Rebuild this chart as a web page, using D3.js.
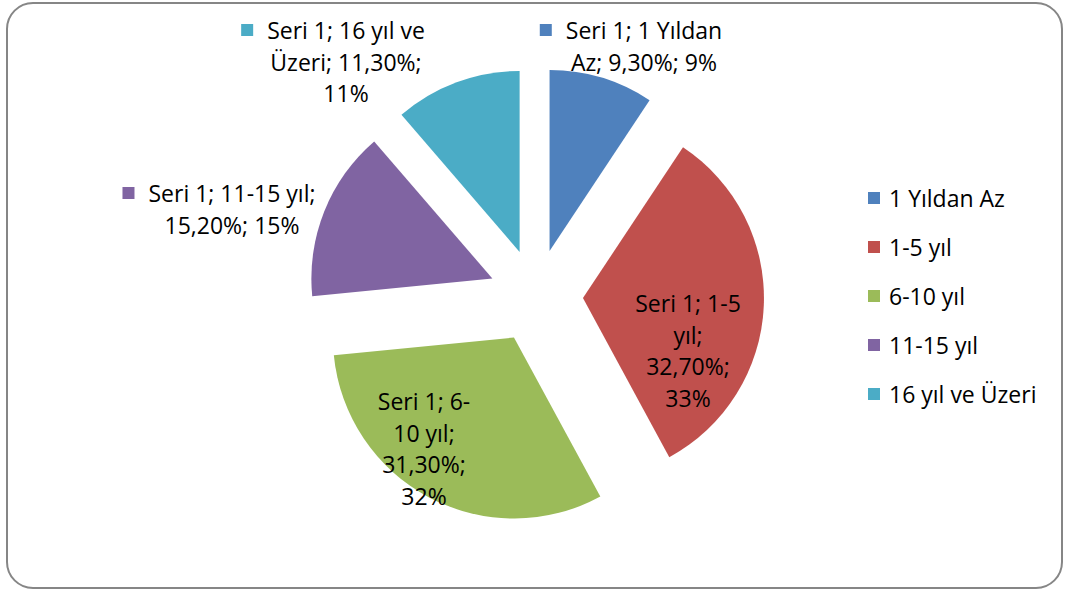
<!DOCTYPE html>
<html>
<head>
<meta charset="utf-8">
<script src="https://cdn.jsdelivr.net/npm/d3@7"></script>
<style>
  body { margin: 0; background: #fff; }
  svg { display: block; font-family: "Open Sans", "Noto Sans", sans-serif; }
</style>
</head>
<body>
<div id="chart"></div>
<script>
const categories = ["1 Yıldan Az", "1-5 yıl", "6-10 yıl", "11-15 yıl", "16 yıl ve Üzeri"];
const values = [9.3, 32.7, 31.3, 15.2, 11.3];
const valueLabels = ["9,30%", "32,70%", "31,30%", "15,20%", "11,30%"];
const percentLabels = ["9%", "33%", "32%", "15%", "11%"];
const seriesName = "Seri 1";

const colors = ["#4F81BD", "#C0504D", "#9BBB59", "#8064A2", "#4BACC6"];
const width = 1066, height = 592;
const cx = 536, cy = 296, radius = 181, explode = 47; // pie center, in pixels
const fontSize = 23, lineH = 31.5;

// label blocks: lines of text, text center, whether to show a legend key
const labelLayout = [
  { lines: [`${seriesName}; 1 Yıldan`, `Az; ${valueLabels[0]}; ${percentLabels[0]}`], x: 644, y: 30, key: true },
  { lines: [`${seriesName}; 1-5`, "yıl;", `${valueLabels[1]};`, percentLabels[1]], x: 688, y: 303, key: false },
  { lines: [`${seriesName}; 6-`, "10 yıl;", `${valueLabels[2]};`, percentLabels[2]], x: 424, y: 401, key: false },
  { lines: [`${seriesName}; 11-15 yıl;`, `${valueLabels[3]}; ${percentLabels[3]}`], x: 232, y: 193, key: true },
  { lines: [`${seriesName}; 16 yıl ve`, `Üzeri; ${valueLabels[4]};`, percentLabels[4]], x: 346, y: 30, key: true }
];

const svg = d3.select("#chart").append("svg")
  .attr("width", width).attr("height", height);

// chart frame
svg.append("rect")
  .attr("x", 7).attr("y", 3)
  .attr("width", 1055).attr("height", 585)
  .attr("rx", 26).attr("ry", 26)
  .attr("fill", "#fff")
  .attr("stroke", "#868686").attr("stroke-width", 2);

const pie = d3.pie().sort(null).value(d => d)(values);
const arc = d3.arc().innerRadius(0).outerRadius(radius);

const g = svg.append("g").attr("transform", `translate(${cx},${cy})`);

g.selectAll("path.slice").data(pie).enter()
  .append("path")
  .attr("class", "slice")
  .attr("d", arc)
  .attr("fill", (d, i) => colors[i])
  .attr("transform", d => {
    const a = (d.startAngle + d.endAngle) / 2;
    return `translate(${explode * Math.sin(a)},${-explode * Math.cos(a)})`;
  });

// data labels
labelLayout.forEach((lab, i) => {
  const grp = svg.append("g");
  lab.lines.forEach((line, j) => {
    const t = grp.append("text")
      .attr("font-size", fontSize)
      .attr("fill", "#000")
      .attr("text-anchor", "middle")
      .attr("dominant-baseline", "central")
      .attr("x", lab.x)
      .attr("y", lab.y + j * lineH)
      .text(line);
    if (j === 0 && lab.key) {
      const w = t.node().getComputedTextLength();
      grp.append("rect")
        .attr("x", lab.x - w / 2 - 26).attr("y", lab.y - 6)
        .attr("width", 12).attr("height", 12)
        .attr("fill", colors[i]);
    }
  });
});

// legend
const legend = svg.append("g").attr("transform", "translate(868,198)");
const rows = legend.selectAll("g").data(categories).enter()
  .append("g").attr("transform", (d, i) => `translate(0,${i * 49})`);
rows.append("rect")
  .attr("x", 0).attr("y", -6).attr("width", 12).attr("height", 12)
  .attr("fill", (d, i) => colors[i]);
rows.append("text")
  .attr("x", 21).attr("y", 0)
  .attr("dominant-baseline", "central")
  .attr("font-size", fontSize)
  .text(d => d);
</script>
</body>
</html>
